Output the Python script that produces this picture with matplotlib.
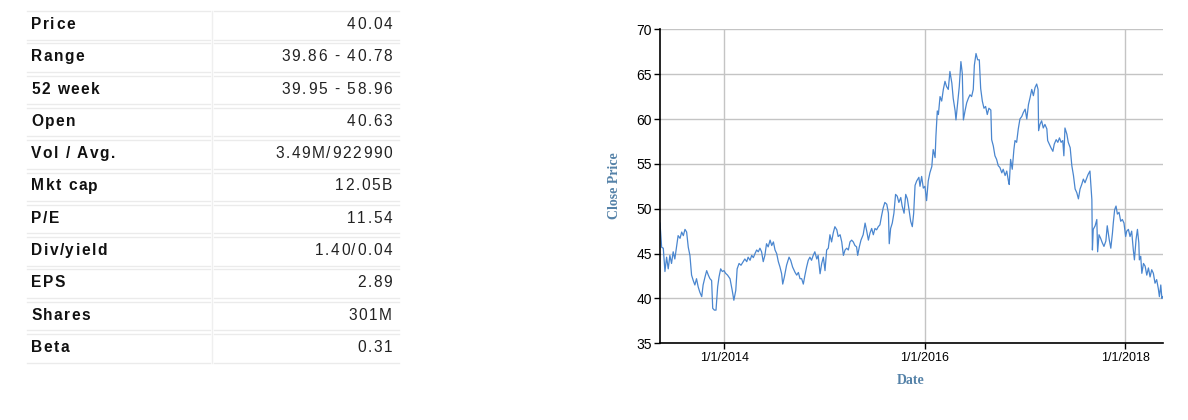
import numpy as np
import pandas as pd
import matplotlib
matplotlib.use('Agg')
import matplotlib.pyplot as plt
from matplotlib.font_manager import FontProperties, findfont, get_font

plt.rcParams['font.family'] = ['Liberation Sans', 'DejaVu Sans']

# Key stats table
stat_labels = ['Price', 'Range', '52 week', 'Open', 'Vol / Avg.', 'Mkt cap',
               'P/E', 'Div/yield', 'EPS', 'Shares', 'Beta']
stat_values = ['40.04', '39.86 - 40.78', '39.95 - 58.96', '40.63', '3.49M/922990',
               '12.05B', '11.54', '1.40/0.04', '2.89', '301M', '0.31']

# Close price (days counted from 1/1/2014)
days_since_2014 = [
    -234, -228, -222, -216, -210, -204, -198, -192, -186, -180,
    -173, -168, -161, -155, -149, -143, -137, -131, -125, -119,
    -113, -107, -101, -95, -89, -82, -77, -70, -64, -58,
    -52, -46, -42, -36, -30, -24, -19, -13, -7, -1,
    5, 12, 21, 29, 35, 42, 47, 54, 61, 69,
    75, 82, 87, 94, 100, 106, 112, 118, 124, 130,
    136, 142, 148, 154, 160, 167, 173, 179, 185, 191,
    197, 203, 209, 213, 219, 227, 236, 242, 249, 258,
    264, 270, 276, 282, 288, 294, 300, 306, 312, 318,
    324, 330, 337, 342, 349, 355, 361,
    367, 373, 379, 385, 391, 397, 403, 410, 415, 422,
    428, 434, 440, 446, 452, 458, 464, 470, 476, 482,
    486, 492, 498, 506, 513, 519, 525, 531, 537, 543,
    549, 555, 561, 567, 573, 579, 585, 592, 598, 601,
    606, 612, 618, 624, 630, 636, 643, 648, 655, 661,
    667, 673, 679, 685, 690, 695, 701, 709,
    713, 719, 725, 731, 737, 743, 749, 756, 761, 768,
    771, 776, 780, 786, 792, 798, 804, 810, 816, 822,
    829, 834, 841, 844, 850, 856, 862, 867, 871, 877,
    883, 889, 895, 901, 907, 911, 917, 923, 929, 934,
    940, 946, 952, 958, 964, 971, 974, 980, 986,
    992, 998, 1004, 1011, 1016, 1023, 1029, 1035, 1038, 1043,
    1049, 1055, 1059, 1065, 1071, 1077, 1084, 1089, 1096, 1102,
    1108, 1114, 1120, 1126, 1132, 1138, 1143, 1145, 1150, 1156,
    1162, 1168, 1175, 1178, 1184, 1190, 1197, 1202, 1209, 1215,
    1221, 1227, 1233, 1237, 1241, 1248, 1253, 1260, 1266, 1272,
    1278, 1284, 1290, 1296, 1302, 1308, 1314, 1325, 1332,
    1339, 1341, 1344, 1351, 1357, 1360, 1365, 1371, 1377, 1383,
    1390, 1395, 1402, 1408, 1414, 1417, 1422, 1427, 1432, 1438,
    1444, 1450, 1456, 1462, 1466, 1472, 1478, 1484, 1490, 1494,
    1500, 1505, 1510, 1512, 1517, 1521, 1527, 1533, 1539, 1545,
    1551, 1557, 1563, 1569, 1575, 1581, 1585, 1590, 1594, 1597,
]
close_price = [
    48.4, 45.7, 45.6, 43.0, 44.6, 43.3, 44.8, 43.9, 45.2, 44.4,
    45.9, 47.0, 46.7, 47.4, 47.0, 47.7, 47.4, 45.7, 44.8, 42.6,
    42.0, 41.5, 42.2, 41.3, 40.7, 40.2, 41.5, 42.4, 43.1, 42.6,
    42.2, 42.0, 38.9, 38.7, 38.7, 41.3, 42.4, 43.3, 43.0, 43.1,
    42.8, 42.6, 42.2, 40.9, 39.8, 40.9, 43.3, 43.9, 43.7, 44.1,
    44.4, 44.1, 44.6, 44.25, 44.8, 44.55, 45.0, 45.4, 45.2, 45.6,
    45.2, 44.1, 44.8, 46.1, 45.75, 46.5, 45.9, 46.3, 45.4, 45.0,
    44.1, 43.5, 42.75, 41.6, 42.4, 43.7, 44.6, 44.25, 43.5, 42.9,
    42.6, 42.9, 42.2, 42.2, 41.6, 42.6, 43.5, 44.25, 44.6, 44.25,
    44.8, 45.2, 44.4, 44.8, 42.75, 43.9, 44.6,
    43.1, 45.4, 45.6, 47.1, 46.3, 47.3, 48.0, 47.65, 46.9, 47.1,
    46.3, 44.8, 45.4, 45.6, 45.4, 46.3, 46.5, 46.3, 45.9, 45.75,
    44.8, 45.75, 46.5, 47.1, 48.4, 47.5, 46.5, 47.3, 47.8, 47.1,
    47.8, 47.65, 48.0, 48.2, 49.2, 50.1, 50.7, 50.5, 49.5, 46.1,
    47.8, 48.4, 49.5, 51.6, 51.4, 50.7, 51.25, 50.3, 49.5, 51.6,
    51.1, 49.9, 48.6, 48.0, 49.5, 52.6, 53.1, 53.5,
    52.5, 53.6, 52.3, 52.5, 50.9, 53.1, 54.0, 54.7, 56.6, 55.7,
    58.1, 60.9, 60.5, 62.5, 62.0, 63.3, 64.2, 63.6, 63.3, 65.3,
    64.0, 62.3, 60.9, 59.9, 61.8, 63.6, 66.4, 65.1, 59.9, 60.9,
    61.8, 62.3, 62.7, 62.5, 63.3, 66.0, 67.3, 66.6, 66.6, 63.4,
    62.0, 61.2, 61.4, 60.5, 61.2, 61.0, 57.7, 57.0, 55.9,
    55.5, 54.8, 54.6, 54.0, 54.4, 53.7, 54.2, 53.1, 52.7, 55.5,
    54.4, 56.6, 57.6, 57.4, 58.9, 60.0, 60.3, 60.7, 61.1, 60.0,
    61.6, 62.4, 63.3, 62.6, 63.5, 63.9, 63.3, 58.7, 59.4, 59.8,
    59.0, 59.4, 58.9, 57.6, 57.2, 56.8, 56.4, 57.2, 57.7, 57.4,
    57.9, 57.4, 57.6, 55.9, 59.0, 58.3, 57.4, 56.8, 54.8, 53.7,
    52.2, 51.8, 51.1, 52.2, 52.7, 53.3, 52.9, 53.8, 54.2,
    51.0, 45.4, 47.7, 48.1, 48.8, 45.2, 47.1, 46.7, 46.2, 45.8,
    46.4, 48.1, 46.6, 45.6, 47.3, 48.4, 49.9, 50.3, 49.4, 49.6,
    48.6, 48.8, 48.4, 46.9, 47.5, 47.7, 46.9, 47.5, 45.4, 44.3,
    46.6, 47.7, 46.2, 44.3, 44.7, 42.8, 43.9, 43.6, 42.6, 43.4,
    42.4, 43.2, 42.8, 41.7, 42.1, 41.1, 40.2, 41.5, 40.0, 40.2,
]

tick_dates = ['2014-01-01', '2016-01-01', '2018-01-01']
tick_labels = ['1/1/2014', '1/1/2016', '1/1/2018']
y_ticks = [35, 40, 45, 50, 55, 60, 65, 70]

dates = pd.Timestamp('2014-01-01') + pd.to_timedelta(days_since_2014, unit='D')

DPI = 100
fig = plt.figure(figsize=(11.88, 4.2), dpi=DPI)


def spaced_text(ax, x, y, s, size, spacing, ha='left', **kw):
    # draw text char by char so it gets css-like letter spacing (units = pixels)
    prop = FontProperties(family='Liberation Sans', weight=kw.get('fontweight', 'normal'))
    font = get_font(findfont(prop))
    font.set_size(size, DPI)
    adv = [font.load_char(ord(c)).linearHoriAdvance / 65536 for c in s]
    total = sum(adv) + spacing * (len(s) - 1)
    pen = x - total if ha == 'right' else x
    for c, a in zip(s, adv):
        if c != ' ':
            ax.text(pen, y, c, fontsize=size, ha='left', va='center',
                    family='Liberation Sans', **kw)
        pen += a + spacing


# Table on the left, laid out in pixel coordinates
tab = fig.add_axes([0, 0, 1, 1])
tab.set_xlim(0, 1188)
tab.set_ylim(420, 0)
tab.axis('off')
row_h = 32.3
for i, (lab, val) in enumerate(zip(stat_labels, stat_values)):
    top = 11 + i * row_h
    bot = top + 28.5
    for y in (top, bot):
        tab.plot([27, 210], [y, y], color='#ebebeb', lw=1)
        tab.plot([214, 399], [y, y], color='#ebebeb', lw=1)
    spaced_text(tab, 31, top + 13.5, lab, 11.2, 1.5, fontweight='bold', color='#111111')
    spaced_text(tab, 392, top + 13.5, val, 11.2, 1.6, ha='right', color='#222222')
tab.plot([212, 212], [11, 11 + 10 * row_h + 28.5], color='#efefef', lw=1)

# Close price chart
ax = fig.add_axes([660 / 1188, 1 - 343.3 / 420, 502.7 / 1188, 314 / 420])
ax.plot(dates, close_price, color='#4a86cf', lw=0.9)
ax.set_xlim(dates[0], dates[-1])
ax.set_ylim(35, 70)
ax.set_yticks(y_ticks)
ax.set_xticks(pd.to_datetime(tick_dates))
ax.set_xticklabels(tick_labels)
ax.grid(True, color='#c4c4c4', lw=1)
ax.set_axisbelow(True)
for s in ['top', 'right']:
    ax.spines[s].set_visible(False)
for s in ['left', 'bottom']:
    ax.spines[s].set_linewidth(1.2)
ax.tick_params(length=4, width=1, pad=2)
ax.tick_params(axis='x', labelsize=9)
ax.tick_params(axis='y', labelsize=10)

fig.text(614 / 1188, 1 - 186 / 420, 'Close Price', rotation=90, ha='center', va='center',
         family='Liberation Serif', fontweight='bold', fontsize=10, color='#5582a8')
fig.text(911 / 1188, 1 - 381 / 420, 'Date', ha='center', va='center',
         family='Liberation Serif', fontweight='bold', fontsize=10, color='#5582a8')

fig.savefig('out.png', dpi=DPI)
